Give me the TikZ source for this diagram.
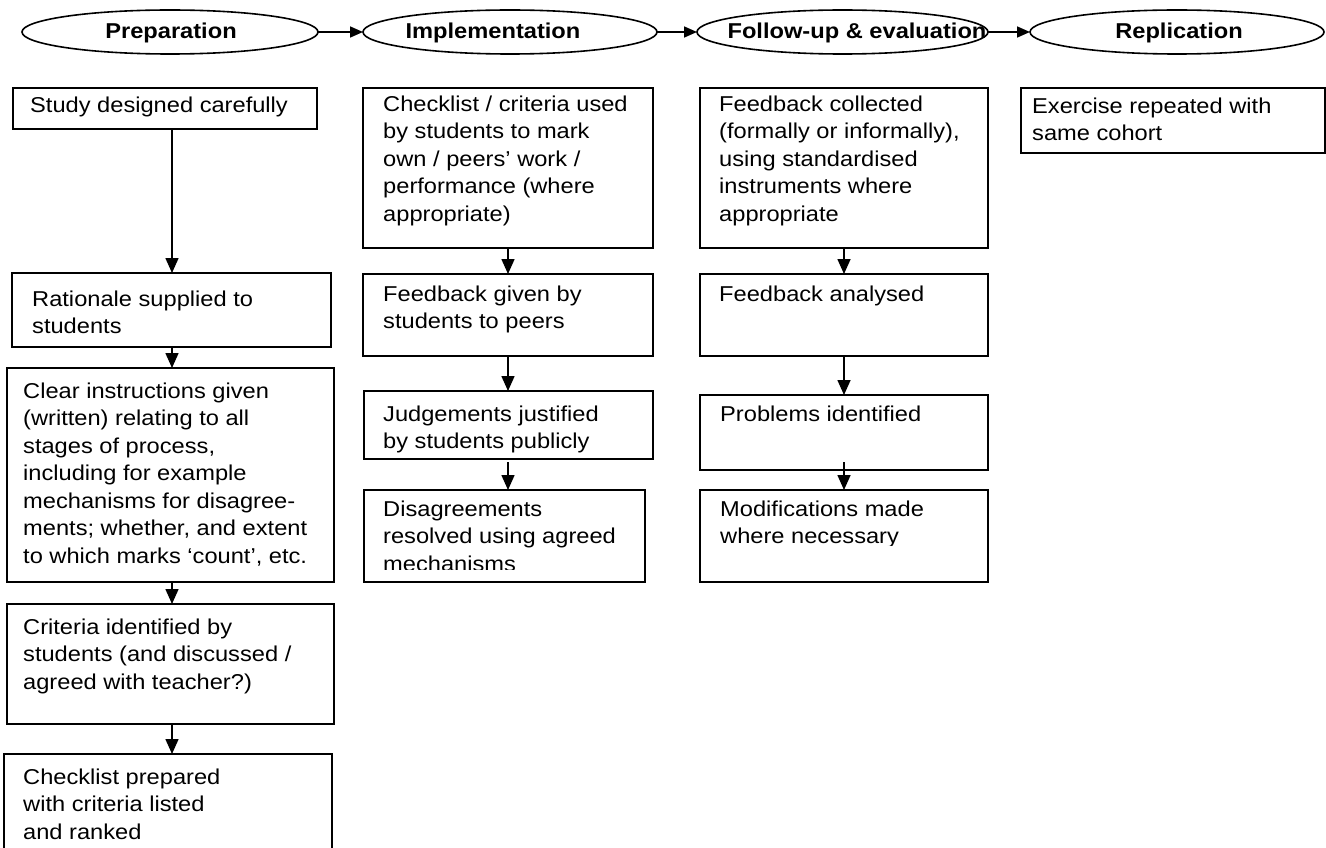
\documentclass[tikz,border=0pt]{standalone}
\usepackage{fontspec}
\setmainfont{Liberation Sans}[FakeStretch=1.1]
\usetikzlibrary{arrows.meta,shapes.geometric}
\newcommand{\firststrut}{\rule{0pt}{16pt}}
\begin{document}
\begin{tikzpicture}[x=1pt,y=-1pt,
  flowbox/.style={draw, line width=1.6pt, rectangle, inner sep=0pt, outer sep=0pt, anchor=north west},
  oval/.style={draw, line width=1.6pt, ellipse, inner sep=0pt, outer sep=0pt, minimum height=44pt},
  txt/.style={anchor=north west, inner sep=0pt, align=left, font=\fontsize{21.5}{27.5}\selectfont},
  hdr/.style={anchor=base, inner sep=0pt, font=\fontsize{21.5}{26}\selectfont\bfseries},
  arr/.style={line width=1.6pt, -{Triangle[length=15pt,width=13pt]}},
  harr/.style={line width=1.6pt, -{Triangle[length=13pt,width=11pt]}}]
\useasboundingbox (0,0) rectangle (1326,848);
\clip (0,0) rectangle (1326,848);

% stage ellipses
\node[oval, minimum width=296pt] (prep) at (170,32) {};
\node[oval, minimum width=294pt] (impl) at (510,32) {};
\node[oval, minimum width=291pt] (foll) at (842.5,32) {};
\node[oval, minimum width=294pt] (repl) at (1177,32) {};
\node[hdr] (hprep) at (171,39) {Preparation};
\node[hdr] (himpl) at (493,39) {Implementation};
\node[hdr] (hfoll) at (857,39) {Follow-up \& evaluation};
\node[hdr] (hrepl) at (1179,39) {Replication};
\draw[harr] (prep.east) -- (impl.west);
\draw[harr] (impl.east) -- (foll.west);
\draw[harr] (foll.east) -- (repl.west);

% column x positions for arrows
\coordinate (c1) at (172,0);
\coordinate (c2) at (508,0);
\coordinate (c3) at (844,0);

% column 1
\node[flowbox, minimum width=304pt, minimum height=41pt] (study) at (13,88) {};
\node[flowbox, minimum width=319pt, minimum height=74pt] (rat) at (12,273) {};
\node[flowbox, minimum width=327pt, minimum height=214pt] (clear) at (7,368) {};
\node[flowbox, minimum width=327pt, minimum height=120pt] (crit) at (7,604) {};
\node[flowbox, minimum width=328pt, minimum height=110pt] (check) at (4,754) {};
\node[txt] (tstudy) at (30,96) {\firststrut Study designed carefully};
\node[txt] (trat) at (32,290) {\firststrut Rationale supplied to\\students};
\node[txt] (tclear) at (23,382) {\firststrut Clear instructions given\\(written) relating to all\\stages of process,\\including for example\\mechanisms for disagree-\\ments; whether, and extent\\to which marks ‘count’, etc.};
\node[txt] (tcrit) at (23,618) {\firststrut Criteria identified by\\students (and discussed /\\agreed with teacher?)};
\node[txt] (tcheck) at (23,768) {\firststrut Checklist prepared\\with criteria listed\\and ranked};
\draw[arr] (study.south -| c1) -- (rat.north -| c1);
\draw[arr] (rat.south -| c1) -- (clear.north -| c1);
\draw[arr] (clear.south -| c1) -- (crit.north -| c1);
\draw[arr] (crit.south -| c1) -- (check.north -| c1);

% column 2
\node[flowbox, minimum width=290pt, minimum height=160pt] (cl2) at (363,88) {};
\node[flowbox, minimum width=290pt, minimum height=82pt] (fbg) at (363,274) {};
\node[flowbox, minimum width=289pt, minimum height=68pt] (jud) at (364,391) {};
\node[flowbox, minimum width=281pt, minimum height=92pt] (dis) at (364,490) {};
\node[txt] (tcl2) at (383,95) {\firststrut Checklist / criteria used\\by students to mark\\own / peers’ work /\\performance (where\\appropriate)};
\node[txt] (tfbg) at (383,285) {\firststrut Feedback given by\\students to peers};
\node[txt] (tjud) at (383,405) {\firststrut Judgements justified\\by students publicly};
\begin{scope}
  \clip (364,490) rectangle (645,569);
  \node[txt] (tdis) at (383,500) {\firststrut Disagreements\\resolved using agreed\\mechanisms};
\end{scope}
\draw[arr] (cl2.south -| c2) -- (fbg.north -| c2);
\draw[arr] (fbg.south -| c2) -- (jud.north -| c2);
\draw[arr] ([yshift=-3pt]jud.south -| c2) -- (dis.north -| c2);

% column 3
\node[flowbox, minimum width=288pt, minimum height=160pt] (fbc) at (700,88) {};
\node[flowbox, minimum width=288pt, minimum height=82pt] (fba) at (700,274) {};
\node[flowbox, minimum width=288pt, minimum height=75pt] (prob) at (700,395) {};
\node[flowbox, minimum width=288pt, minimum height=92pt] (mod) at (700,490) {};
\node[txt] (tfbc) at (719,95) {\firststrut Feedback collected\\(formally or informally),\\using standardised\\instruments where\\appropriate};
\node[txt] (tfba) at (719,285) {\firststrut Feedback analysed};
\node[txt] (tprob) at (720,405) {\firststrut Problems identified};
\begin{scope}
  \clip (700,490) rectangle (988,545);
  \node[txt] (tmod) at (720,500) {\firststrut Modifications made\\where necessary};
\end{scope}
\draw[arr] (fbc.south -| c3) -- (fba.north -| c3);
\draw[arr] (fba.south -| c3) -- (prob.north -| c3);
\draw[arr] ([yshift=8pt]prob.south -| c3) -- (mod.north -| c3);

% column 4
\node[flowbox, minimum width=304pt, minimum height=65pt] (ex) at (1021,88) {};
\node[txt] (tex) at (1032,97) {\firststrut Exercise repeated with\\same cohort};
\end{tikzpicture}
\end{document}
